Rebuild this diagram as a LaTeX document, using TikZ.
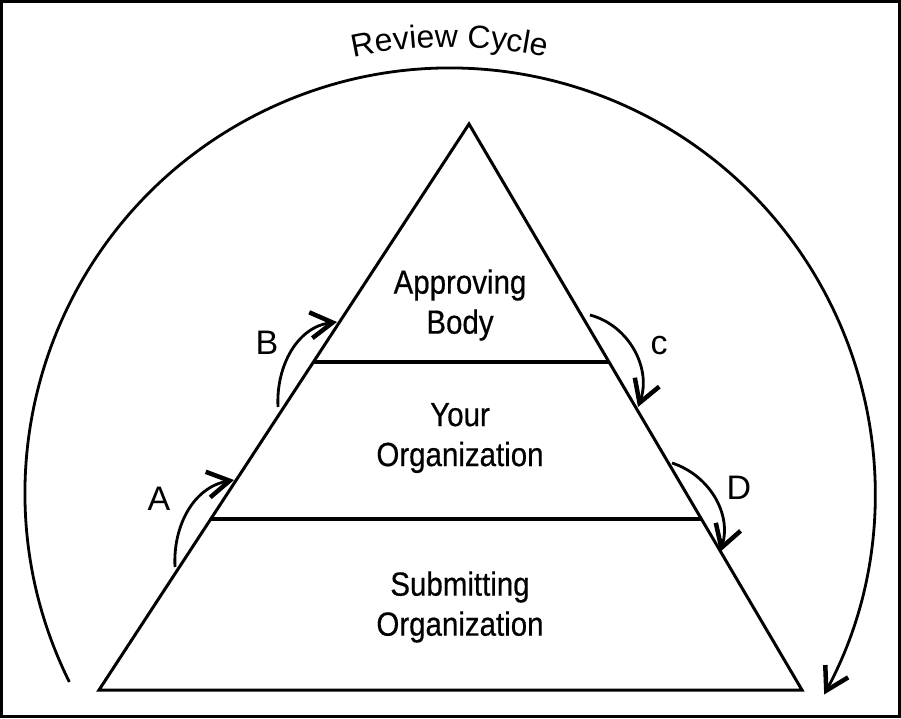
\documentclass[tikz,border=0pt]{standalone}
\usepackage{fontspec}
\setmainfont[FakeStretch=0.88, FakeBold=0.5]{Liberation Sans}
\newfontfamily\cyclefont{Liberation Sans}
\usetikzlibrary{arrows.meta, calc, decorations.text}

\begin{document}
\begin{tikzpicture}[x=1pt, y=1pt,
    % Text styles
    layertext/.style={align=center, inner sep=0pt, font=\fontsize{33.5}{40}\selectfont},
    steplabel/.style={inner sep=0pt, font=\cyclefont\fontsize{34}{34}\selectfont},
    % Line styles
    edge/.style={line width=3pt, line join=miter},
    divider/.style={line width=3.5pt},
    arrow/.style={line width=2.8pt, -{Straight Barb[length=22pt, width=26pt, line width=4.5pt]}}
]
\useasboundingbox (0,0) rectangle (901,718);
\draw[line width=3pt] (1.5,1.5) rectangle (899.5,716.5);

% Pyramid corners
\coordinate (apex) at (469,594);
\coordinate (bl) at (99,28);
\coordinate (br) at (802,28);
\draw[edge] (apex) -- (br) -- (bl) -- cycle;

% Dividers between the layers
\coordinate (top-l) at ($(apex)!0.4205!(bl)$);
\coordinate (top-r) at ($(apex)!0.4205!(br)$);
\coordinate (mid-l) at ($(apex)!0.698!(bl)$);
\coordinate (mid-r) at ($(apex)!0.698!(br)$);
\draw[divider] (top-l) -- (top-r);
\draw[divider] (mid-l) -- (mid-r);

% Layer texts
\node[layertext] at (460,413) (approving) {Approving\\Body};
\node[layertext] at (460,280) (yours) {Your\\Organization};
\node[layertext] at (460,111) (submitting) {Submitting\\Organization};

% Review cycle
\coordinate (cycle-c) at (450,225);
\coordinate (cycle-start) at ($(cycle-c)+(206.4:425)$);
\draw[arrow] (cycle-start) arc[start angle=206.4, end angle=-28.3, radius=425];
\path[decorate, decoration={text along path, text align=center,
      text={|\cyclefont\fontsize{32}{32}\selectfont|Review Cycle}}]
    ($(cycle-c)+(110:446)$) arc[start angle=110, end angle=70, radius=446];

% Step arrows
\coordinate (a-start) at (175,151);
\coordinate (a-end) at (234,238);
\coordinate (b-start) at (278,311);
\coordinate (b-end) at (337,396);
\coordinate (c-start) at (590,403);
\coordinate (c-end) at (638,311);
\coordinate (d-start) at (672,255);
\coordinate (d-end) at (720,166);
\draw[arrow] (a-start) to[out=93, in=190] (a-end);
\draw[arrow] (b-start) to[out=93, in=187] (b-end);
\draw[arrow] (c-start) to[out=-15, in=70] (c-end);
\draw[arrow] (d-start) to[out=-18, in=72] (d-end);

% Step labels
\node[steplabel] at (159,219) (lab-a) {A};
\node[steplabel] at (267,375) (lab-b) {B};
\node[steplabel] at (659,372) (lab-c) {c};
\node[steplabel] at (739,230) (lab-d) {D};

\end{tikzpicture}
\end{document}
